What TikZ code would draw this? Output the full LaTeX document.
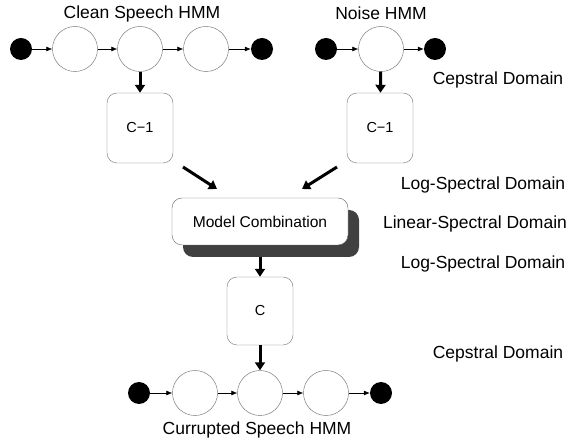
\documentclass[tikz,border=0pt]{standalone}
\usepackage{fontspec}
\setmainfont{Liberation Sans}
\usetikzlibrary{arrows.meta,shadows}

\begin{document}
\begin{tikzpicture}[x=1pt,y=-1pt,
  state/.style={circle,draw=black!60,fill=white,minimum size=45pt,inner sep=0pt},
  endstate/.style={circle,fill=black,minimum size=22pt,inner sep=0pt},
  convbox/.style={draw=black!55,fill=white,rounded corners=10pt,minimum width=66pt,minimum height=70pt,font=\fontsize{14.5}{16}\selectfont},
  trans/.style={-{Latex[length=6pt,width=5pt]},line width=0.6pt},
  bigarrow/.style={-{Triangle[length=8pt,width=10pt]},line width=3pt},
  txt/.style={font=\fontsize{17.5}{19}\selectfont,inner sep=0pt}]

\useasboundingbox (0,0) rectangle (571,443);

\coordinate (A) at (21,49);
\coordinate (B) at (75,49);
\coordinate (C) at (140,49);
\coordinate (D) at (206,49);
\coordinate (E) at (262,49);
\coordinate (F) at (326,49);
\coordinate (G) at (381,49);
\coordinate (H) at (435,49);
\coordinate (I) at (139,393);
\coordinate (J) at (195,393);
\coordinate (K) at (260,393);
\coordinate (L) at (326,393);
\coordinate (M) at (381,393);

\coordinate (P) at (183,167);
\coordinate (Q) at (217,189);
\coordinate (R) at (337,167);
\coordinate (S) at (302,189);


\node [endstate] (s0) at (A) {};
\node [state] (s1) at (B) {};
\node [state] (s2) at (C) {};
\node [state] (s3) at (D) {};
\node [endstate] (s4) at (E) {};

\node [endstate] (n0) at (F) {};
\node [state] (n1) at (G) {};
\node [endstate] (n2) at (H) {};

\node [endstate] (y0) at (I) {};
\node [state] (y1) at (J) {};
\node [state] (y2) at (K) {};
\node [state] (y3) at (L) {};
\node [endstate] (y4) at (M) {};

\node [convbox] (cinv1) at (140,128) {C−1};
\node [convbox] (cinv2) at (380,128) {C−1};
\node [convbox,minimum height=68pt] (cfwd) at (260,311) {C};

\node [draw=black!60,fill=white,rounded corners=10pt,minimum width=176pt,minimum height=47pt,
  font=\fontsize{15.6}{17}\selectfont,
  drop shadow={shadow xshift=11pt,shadow yshift=-12pt,fill=black!75,opacity=1}]
  (comb) at (260,221.5) {Model Combination};


\draw [trans] (s0) -- (s1);
\draw [trans] (s1) -- (s2);
\draw [trans] (s2) -- (s3);
\draw [trans] (s3) -- (s4);
\draw [trans] (n0) -- (n1);
\draw [trans] (n1) -- (n2);
\draw [trans] (y0) -- (y1);
\draw [trans] (y1) -- (y2);
\draw [trans] (y2) -- (y3);
\draw [trans] (y3) -- (y4);

\draw [bigarrow] (s2) -- (cinv1);
\draw [bigarrow] (n1) -- (cinv2);
\draw [bigarrow] (P) -- (Q);
\draw [bigarrow] (R) -- (S);
\draw [bigarrow] ([yshift=-12pt]comb.south) -- (cfwd);
\draw [bigarrow] (cfwd) -- (y2);


\node [txt] (t1) at (142,14) {Clean Speech HMM};
\node [txt] (t2) at (381,13) {Noise HMM};
\node [txt] (t3) at (257,430) {Currupted Speech HMM};

\node [txt] (d1) at (498,80) {Cepstral Domain};
\node [txt] (d2) at (483,185) {Log-Spectral Domain};
\node [txt] (d3) at (475,224) {Linear-Spectral Domain};
\node [txt] (d4) at (483,264) {Log-Spectral Domain};
\node [txt] (d5) at (498,354) {Cepstral Domain};


\end{tikzpicture}
\end{document}
